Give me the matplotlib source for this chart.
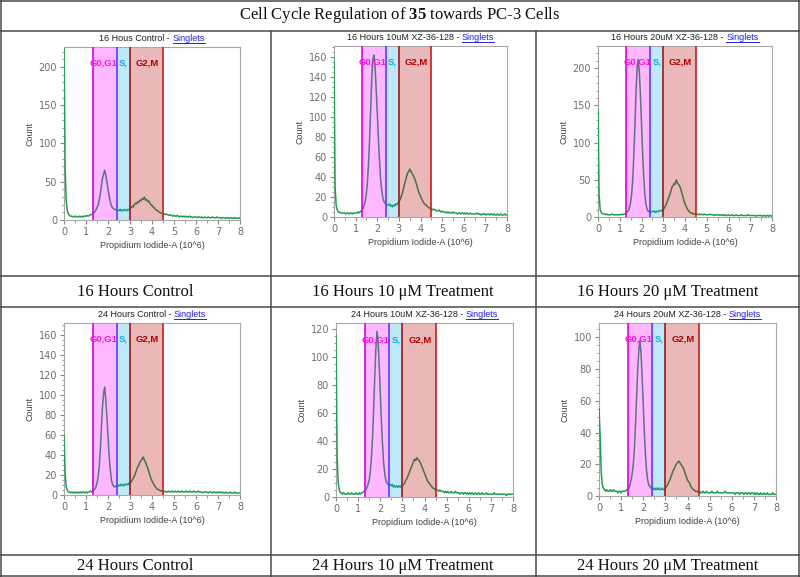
import numpy as np
import matplotlib
matplotlib.use("Agg")
import matplotlib.pyplot as plt
from matplotlib.lines import Line2D
from matplotlib.ticker import MultipleLocator

plt.rcParams['mathtext.fontset'] = 'custom'
plt.rcParams['mathtext.rm'] = 'Liberation Serif'
plt.rcParams['mathtext.bf'] = 'Liberation Serif:bold'

# =========================
# Data (0.05 bins on PI-A axis)
# =========================
pi_bins = np.round(np.arange(161) * 0.05, 2)

counts_16h_control = [
    230, 70, 25, 12, 8, 6, 5, 5, 4, 5,
    4, 5, 4, 4, 5, 4, 5, 4, 5, 5,
    5, 6, 5, 6, 7, 7, 8, 9, 11, 13,
    16, 20, 26, 34, 45, 55, 60, 65, 58, 50,
    40, 32, 24, 19, 16, 15, 14, 13, 14, 13,
    12, 14, 12, 13, 12, 14, 13, 12, 14, 13,
    15, 16, 18, 17, 20, 22, 21, 24, 23, 26,
    25, 28, 27, 30, 26, 27, 24, 25, 22, 20,
    19, 17, 16, 14, 13, 12, 11, 10, 9, 9,
    8, 8, 7, 8, 7, 6, 7, 6, 6, 5,
    6, 5, 5, 6, 5, 4, 5, 5, 4, 5,
    4, 5, 4, 4, 5, 4, 4, 3, 4, 4,
    4, 3, 4, 4, 3, 4, 3, 3, 4, 3,
    3, 4, 3, 3, 3, 4, 3, 3, 3, 4,
    3, 3, 3, 2, 3, 3, 3, 2, 3, 3,
    2, 3, 3, 2, 3, 2, 3, 2, 2, 3, 2]

counts_16h_10um = [
    158, 30, 12, 7, 5, 5, 4, 4, 4, 4,
    4, 3, 4, 4, 3, 4, 4, 3, 4, 4,
    4, 4, 5, 4, 5, 6, 7, 9, 12, 16,
    24, 36, 55, 80, 110, 140, 158, 162, 150, 128,
    105, 80, 58, 40, 28, 20, 16, 14, 13, 12,
    12, 13, 11, 12, 10, 12, 11, 13, 12, 14,
    15, 17, 20, 23, 27, 32, 36, 40, 44, 45,
    48, 46, 44, 42, 40, 37, 34, 30, 26, 23,
    21, 18, 16, 14, 13, 12, 11, 10, 9, 9,
    8, 7, 8, 7, 7, 6, 6, 7, 6, 5,
    6, 5, 5, 5, 4, 5, 4, 5, 4, 4,
    5, 4, 4, 4, 3, 4, 4, 3, 4, 4,
    3, 4, 3, 4, 3, 3, 4, 3, 3, 3,
    3, 3, 4, 3, 3, 3, 2, 3, 3, 3,
    3, 2, 3, 3, 2, 3, 3, 2, 3, 2,
    2, 3, 2, 2, 3, 2, 2, 2, 3, 2, 2]

counts_16h_20um = [
    145, 30, 10, 6, 5, 4, 4, 3, 4, 3,
    3, 3, 3, 4, 3, 3, 3, 3, 3, 3,
    3, 3, 4, 3, 4, 4, 5, 7, 9, 13,
    20, 32, 52, 85, 125, 170, 200, 212, 195, 165,
    125, 88, 55, 32, 18, 11, 8, 7, 6, 7,
    8, 7, 8, 6, 8, 7, 8, 9, 8, 9,
    10, 12, 15, 18, 22, 26, 30, 35, 40, 42,
    45, 44, 50, 46, 44, 42, 38, 33, 28, 22,
    18, 14, 11, 9, 7, 6, 5, 5, 4, 4,
    4, 4, 3, 4, 3, 4, 3, 3, 4, 3,
    3, 3, 3, 4, 3, 3, 3, 2, 3, 3,
    3, 2, 3, 3, 2, 3, 2, 3, 2, 2,
    3, 2, 2, 3, 2, 2, 2, 3, 2, 2,
    2, 2, 3, 2, 2, 2, 2, 2, 3, 2,
    2, 2, 2, 2, 2, 1, 2, 2, 2, 2,
    2, 1, 2, 2, 1, 2, 2, 1, 2, 2, 1]

counts_24h_control = [
    60, 22, 8, 5, 3, 3, 2, 3, 2, 3,
    2, 3, 2, 3, 2, 3, 2, 3, 3, 2,
    3, 2, 3, 3, 4, 3, 4, 5, 6, 8,
    12, 18, 28, 45, 68, 88, 102, 108, 95, 78,
    58, 40, 26, 16, 11, 9, 8, 9, 8, 9,
    10, 9, 11, 10, 9, 11, 10, 11, 10, 12,
    11, 13, 15, 17, 19, 22, 25, 28, 30, 33,
    34, 36, 38, 35, 33, 30, 27, 24, 20, 17,
    14, 12, 10, 8, 7, 6, 5, 5, 4, 4,
    4, 3, 4, 3, 3, 4, 3, 3, 4, 3,
    3, 4, 3, 3, 4, 3, 3, 4, 3, 3,
    3, 4, 3, 3, 4, 3, 3, 3, 4, 3,
    3, 3, 4, 3, 3, 3, 2, 3, 3, 3,
    3, 2, 3, 3, 3, 2, 3, 3, 2, 3,
    2, 3, 3, 2, 3, 2, 2, 3, 2, 2,
    2, 3, 2, 2, 2, 3, 2, 2, 2, 2, 2]

counts_24h_10um = [
    115, 28, 10, 5, 3, 3, 2, 3, 2, 2,
    2, 3, 2, 2, 3, 2, 2, 2, 3, 2,
    2, 3, 2, 3, 3, 4, 4, 5, 7, 9,
    12, 18, 28, 42, 62, 85, 105, 118, 112, 95,
    75, 55, 38, 25, 17, 12, 10, 9, 8, 9,
    8, 9, 7, 8, 7, 8, 7, 8, 7, 8,
    8, 9, 10, 12, 13, 15, 17, 19, 21, 23,
    25, 27, 26, 28, 27, 26, 25, 23, 21, 19,
    17, 15, 13, 11, 10, 9, 8, 7, 6, 6,
    5, 5, 5, 4, 5, 4, 4, 4, 3, 4,
    3, 4, 3, 3, 4, 3, 3, 3, 4, 3,
    3, 3, 2, 3, 3, 2, 3, 3, 2, 3,
    2, 3, 2, 3, 2, 2, 3, 2, 2, 3,
    2, 2, 3, 2, 2, 2, 3, 2, 2, 2,
    2, 2, 2, 3, 2, 2, 2, 2, 2, 2,
    2, 2, 2, 2, 1, 2, 2, 2, 2, 2, 2]

counts_24h_20um = [
    55, 38, 15, 7, 5, 4, 3, 4, 3, 3,
    4, 3, 3, 4, 3, 3, 3, 2, 3, 3,
    2, 3, 3, 3, 3, 4, 4, 5, 7, 10,
    14, 20, 30, 45, 62, 80, 92, 98, 90, 75,
    58, 40, 26, 16, 10, 7, 6, 5, 5, 4,
    5, 4, 5, 4, 5, 4, 4, 5, 4, 4,
    5, 6, 7, 9, 10, 12, 14, 16, 17, 19,
    20, 21, 22, 21, 20, 19, 18, 16, 14, 12,
    10, 9, 8, 6, 5, 4, 4, 3, 3, 3,
    2, 3, 2, 2, 3, 2, 2, 3, 2, 2,
    2, 2, 3, 2, 2, 2, 2, 3, 2, 2,
    2, 2, 2, 2, 3, 2, 2, 2, 2, 2,
    2, 2, 2, 1, 2, 2, 2, 1, 2, 2,
    2, 1, 2, 2, 1, 2, 2, 1, 2, 2,
    1, 2, 1, 2, 1, 1, 2, 1, 1, 2,
    1, 1, 2, 1, 1, 1, 1, 2, 1, 1, 1]

all_counts = [counts_16h_control, counts_16h_10um, counts_16h_20um,
              counts_24h_control, counts_24h_10um, counts_24h_20um]

panel_titles = ["16 Hous Control", "16 Hours 10uM XZ-36-128", "16 Hours 20uM XZ-36-128",
                "24 Hours Control", "24 Hours 10uM XZ-36-128", "24 Hours 20uM XZ-36-128"]
cell_labels = ["16 Hours Control", "16 Hours 10 \u03bcM Treatment", "16 Hours 20 \u03bcM Treatment",
               "24 Hours Control", "24 Hours 10 \u03bcM Treatment", "24 Hours 20 \u03bcM Treatment"]
y_top = [226, 171, 230, 172, 124, 109]
y_major = [50, 20, 50, 20, 20, 20]
y_minor = [10, 5, 10, 5, 5, 5]

# gate boundaries on PI-A (10^6)
g1_lo, g1_hi, s_hi, g2_hi = 1.3, 2.4, 3.0, 4.5

# =========================
# Layout (pixels)
# =========================
W, H = 800, 577
fig = plt.figure(figsize=(W / 100, H / 100), dpi=100)

# left, top, right, bottom of each plot box in pixels
boxes = [(64, 47, 240, 220), (334, 46, 507, 217), (598, 46, 772, 217),
         (64, 323, 240, 495), (336, 323, 513, 497), (599, 323, 776, 496)]

col_centers = [135, 403, 668]
grid_color = "#4a4a4a"
tick_gray = "#6e6e6e"

title_parts = []

for k in range(6):
    l, t, r, b = boxes[k]
    ax = fig.add_axes([l / W, 1 - b / H, (r - l) / W, (b - t) / H])
    ax.plot(pi_bins, all_counts[k], color="#1f9e52", lw=1.1, zorder=1)

    ax.axvspan(g1_lo, g1_hi, color="#ff00ff", alpha=0.28, lw=0, zorder=2)
    ax.axvspan(g1_hi, s_hi, color="#00aae6", alpha=0.25, lw=0, zorder=2)
    ax.axvspan(s_hi, g2_hi, color="#b40000", alpha=0.28, lw=0, zorder=2)
    ax.axvline(g1_lo, color="#e000e0", lw=1.2, zorder=3)
    ax.axvline(g1_hi, color="#5a3cff", lw=1.2, zorder=3)
    ax.axvline(s_hi, color="#a01818", lw=1.2, zorder=3)
    ax.axvline(g2_hi, color="#c02020", lw=1.2, zorder=3)

    lab_kw = dict(transform=ax.get_xaxis_transform(), fontsize=6.8, fontweight="bold",
                  family="Liberation Sans", ha="center", va="center", zorder=4)
    ax.text(1.8, 0.905, "G0,G1", color="#ff10e0", **lab_kw)
    ax.text(2.7, 0.905, "S,", color="#1aa8e0", **lab_kw)
    ax.text(3.8, 0.905, "G2,M", color="#b00000", **lab_kw)

    ax.set_xlim(0, 8)
    ax.set_ylim(0, y_top[k])
    ax.xaxis.set_major_locator(MultipleLocator(1))
    ax.xaxis.set_minor_locator(MultipleLocator(0.5))
    ax.yaxis.set_major_locator(MultipleLocator(y_major[k]))
    ax.yaxis.set_minor_locator(MultipleLocator(y_minor[k]))
    ax.tick_params(which="major", direction="out", length=3, width=0.8, color="#8a8a8a",
                   labelsize=7, labelcolor=tick_gray, pad=2)
    ax.tick_params(which="minor", direction="out", length=1.8, width=0.6, color="#8a8a8a")
    for sp in ax.spines.values():
        sp.set_color("#a8a8a8")
        sp.set_linewidth(0.8)
    # let the spike at 0 show over the left frame, as in the export
    ax.spines["left"].set_zorder(0.5)
    ax.set_ylabel("Count", fontsize=6.5, color="#404048", family="Liberation Sans", labelpad=3)
    ax.set_xlabel("Propidium Iodide-A (10^6)", fontsize=6.5, color="#404048",
                  family="Liberation Sans", labelpad=3)

    # panel title: black text + blue underlined "Singlets"
    cx = (l + r) / 2
    cy = t - 6
    t1 = fig.text(0, 1 - cy / H, panel_titles[k] + " - ", fontsize=6.5, color="#202020",
                  family="Liberation Sans", ha="left", va="baseline")
    t2 = fig.text(0, 1 - cy / H, "Singlets", fontsize=6.5, color="#2020ee",
                  family="Liberation Sans", ha="left", va="baseline")
    title_parts.append((t1, t2, cx, cy))

    # big cell label under each plot
    row_y = 291.5 if k < 3 else 566
    fig.text(col_centers[k % 3] / W, 1 - row_y / H, cell_labels[k], fontsize=12,
             family="Liberation Serif", ha="center", va="center", color="#111111")

fig.text(400 / W, 1 - 15 / H, r"Cell Cycle Regulation of $\mathbf{35}$ towards PC-3 Cells",
         fontsize=12, family="Liberation Serif", ha="center", va="center", color="#111111")

# table grid
def hline(y, x0=0, x1=W):
    fig.add_artist(Line2D([x0 / W, x1 / W], [1 - y / H, 1 - y / H], color=grid_color, lw=1.1))

def vline(x, y0=0, y1=H):
    fig.add_artist(Line2D([x / W, x / W], [1 - y0 / H, 1 - y1 / H], color=grid_color, lw=1.1))

for y in [0.6, 31, 276, 307, 555, 576.4]:
    hline(y)
vline(0.6)
vline(799.4)
vline(270.5, 31, H)
vline(536, 31, H)

# center panel titles now that text widths are known
fig.canvas.draw()
rend = fig.canvas.get_renderer()
for t1, t2, cx, cy in title_parts:
    w1 = t1.get_window_extent(rend).width
    w2 = t2.get_window_extent(rend).width
    x0 = cx - (w1 + w2) / 2
    t1.set_x(x0 / W)
    t2.set_x((x0 + w1) / W)
    uy = 1 - (cy + 1.5) / H
    fig.add_artist(Line2D([(x0 + w1) / W, (x0 + w1 + w2) / W], [uy, uy], color="#2020ee", lw=0.7))

fig.savefig("out.png", dpi=100)
